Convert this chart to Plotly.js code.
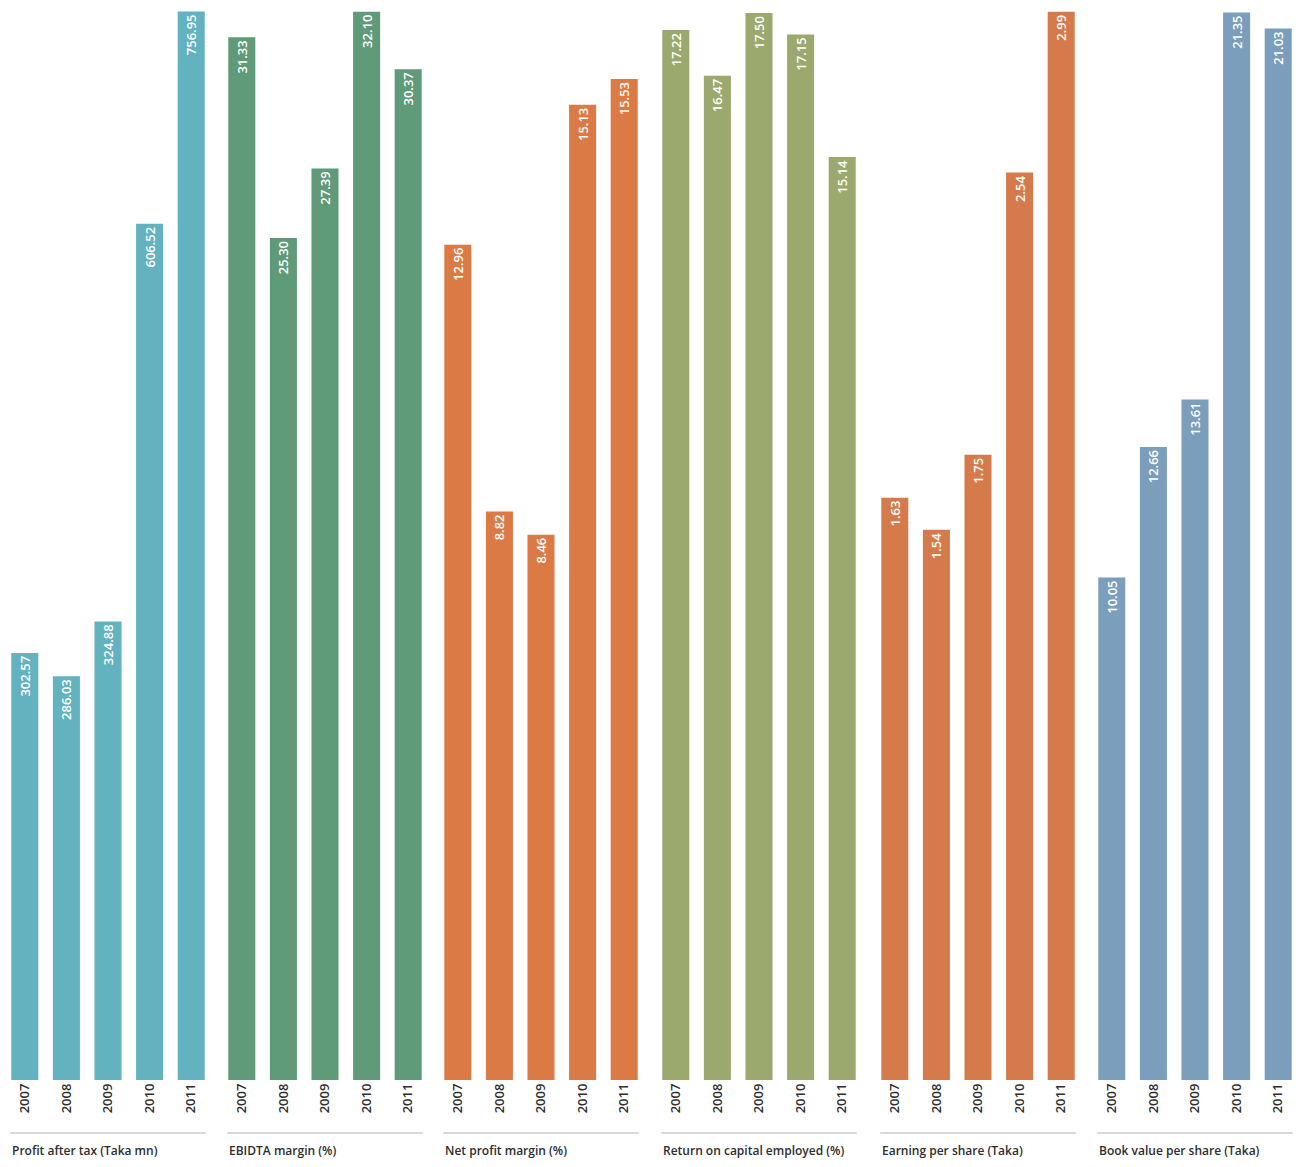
<!DOCTYPE html>
<html>
<head>
<meta charset="utf-8">
<script src="https://cdn.plot.ly/plotly-3.0.1.min.js"></script>
<style>html,body{margin:0;padding:0;background:#fff;}#chart{width:1311px;height:1167px;}</style>
</head>
<body>
<div id="chart"></div>
<script>
const years = ["2007", "2008", "2009", "2010", "2011"];
const groupTitles = ["Profit after tax (Taka mn)", "EBIDTA margin (%)", "Net profit margin (%)",
  "Return on capital employed (%)", "Earning per share (Taka)", "Book value per share (Taka)"];
const profitAfterTax = [302.57, 286.03, 324.88, 606.52, 756.95];
const ebidtaMargin = [31.33, 25.30, 27.39, 32.10, 30.37];
const netProfitMargin = [12.96, 8.82, 8.46, 15.13, 15.53];
const returnOnCapital = [17.22, 16.47, 17.50, 17.15, 15.14];
const earningPerShare = [1.63, 1.54, 1.75, 2.54, 2.99];
const bookValuePerShare = [10.05, 12.66, 13.61, 21.35, 21.03];

const series = [profitAfterTax, ebidtaMargin, netProfitMargin, returnOnCapital, earningPerShare, bookValuePerShare];
const colors = ["#62b2c0", "#5f9a79", "#dc7a45", "#9ba96e", "#d57b4b", "#7b9ebc"];
const yMax = [758, 32.15, 16.6, 17.55, 2.995, 21.4];
const W = 1311, H = 1167;
const leftPx = [4, 221, 437, 655, 874, 1091];
const slotW = 208;

const traces = [];
const layout = {
  width: W, height: H,
  margin: {l: 0, r: 0, t: 0, b: 0},
  paper_bgcolor: "#ffffff", plot_bgcolor: "#ffffff",
  showlegend: false,
  bargap: 0.35,
  font: {family: "Open Sans, DejaVu Sans, sans-serif", color: "#333"},
  annotations: [], shapes: []
};
const yBottom = 1 - 1080 / H, yTop = 1 - 10 / H;

series.forEach((vals, i) => {
  const n = i === 0 ? "" : String(i + 1);
  traces.push({
    type: "bar", x: years, y: vals,
    xaxis: "x" + n, yaxis: "y" + n,
    marker: {color: colors[i]},
    text: vals.map(v => v.toFixed(2)),
    textposition: "inside", insidetextanchor: "end",
    textangle: -90,
    textfont: {color: "#ffffff", size: 13, weight: 600, family: "Open Sans, DejaVu Sans, sans-serif"},
    hoverinfo: "x+y", cliponaxis: false
  });
  const d0 = leftPx[i] / W, d1 = (leftPx[i] + slotW) / W;
  layout["xaxis" + n] = {
    domain: [d0, d1], anchor: "y" + n, type: "category",
    showgrid: false, zeroline: false, showline: false, ticks: "",
    tickangle: -90, tickfont: {size: 13, weight: 600, color: "#2e2e2e"},
    fixedrange: true
  };
  layout["yaxis" + n] = {
    domain: [yBottom, yTop], anchor: "x" + n, range: [0, yMax[i]],
    visible: false, fixedrange: true
  };
  layout.shapes.push({
    type: "line", xref: "x" + n + " domain", yref: "paper",
    x0: 0.03, x1: 0.97, y0: 1 - 1133 / H, y1: 1 - 1133 / H,
    line: {color: "#b0b0b0", width: 1}
  });
  layout.annotations.push({
    xref: "x" + n + " domain", yref: "paper",
    x: 0.03, y: 1 - 1150 / H, xanchor: "left", yanchor: "middle",
    text: groupTitles[i], showarrow: false,
    font: {size: 12, weight: 600, color: "#2e2e2e"}
  });
});

Plotly.newPlot("chart", traces, layout, {displayModeBar: false, staticPlot: true});
</script>
</body>
</html>
